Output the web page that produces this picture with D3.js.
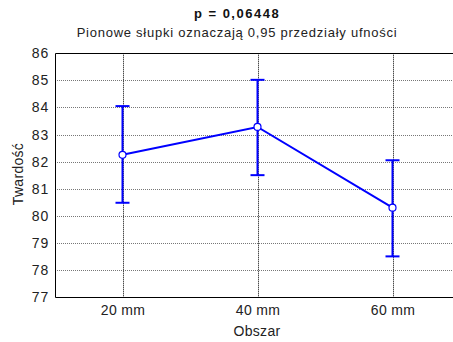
<!DOCTYPE html>
<html><head><meta charset="utf-8">
<script src="https://cdn.jsdelivr.net/npm/d3@7"></script>
<style>body{margin:0;background:#fff}svg{display:block}text{font-family:"Liberation Sans",Arial,sans-serif}</style>
</head><body><svg id="c" width="453" height="342"></svg>
<script>
const categories = ["20 mm","40 mm","60 mm"];
const means = [82.25, 83.28, 80.3];
const lower = [80.48, 81.5, 78.5];
const upper = [84.05, 85.02, 82.05];
const yTicks = [77,78,79,80,81,82,83,84,85,86];

const svg = d3.select("#c");
const L=55, R=460, T=53.3, B=297;
const x = d3.scalePoint().domain(categories).range([L,R]).padding(0.5);
const y = d3.scaleLinear().domain([77,86]).range([B,T]);

// horizontal grid
svg.append("g").selectAll("line").data(yTicks.slice(1,-1)).join("line")
  .attr("x1",L).attr("x2",R).attr("y1",d=>Math.round(y(d))+0.5).attr("y2",d=>Math.round(y(d))+0.5)
  .attr("stroke","#777").attr("stroke-dasharray","1,1");
// vertical grid
svg.append("g").selectAll("line").data(categories).join("line")
  .attr("x1",d=>Math.round(x(d))+0.5).attr("x2",d=>Math.round(x(d))+0.5).attr("y1",T).attr("y2",B)
  .attr("stroke","#000").attr("stroke-dasharray","1,1");

// frame
svg.append("path").attr("d",`M${R},${Math.round(T)+0.5}H${L+0.5}V${Math.round(B)+0.5}H${R}`)
  .attr("fill","none").attr("stroke","#000");

// y axis labels
const ya = svg.append("g").attr("transform",`translate(${L},0)`)
  .call(d3.axisLeft(y).tickValues(yTicks).tickSize(0).tickPadding(6).tickFormat(d3.format("d")));
ya.select(".domain").remove();
ya.selectAll("text").attr("font-size",14).attr("fill","#222").attr("letter-spacing",0.8).attr("font-family","Liberation Sans, Arial, sans-serif");

const xa = svg.append("g").attr("transform",`translate(0,${B})`)
  .call(d3.axisBottom(x).tickSize(0).tickPadding(8));
xa.select(".domain").remove();
xa.selectAll("text").attr("font-size",14).attr("fill","#222").attr("letter-spacing",0.3).attr("font-family","Liberation Sans, Arial, sans-serif");

// error bars
const g = svg.append("g");
const data = categories.map((c,i)=>({c,m:means[i],lo:lower[i],hi:upper[i]}));
g.selectAll("line.eb").data(data).join("line").attr("class","eb")
  .attr("x1",d=>x(d.c)).attr("x2",d=>x(d.c)).attr("y1",d=>y(d.lo)).attr("y2",d=>y(d.hi))
  .attr("stroke","#0000ff").attr("stroke-width",2);
["lo","hi"].forEach(k=>{
  g.selectAll("line.cap"+k).data(data).join("line").attr("class","cap"+k)
    .attr("x1",d=>x(d.c)-7).attr("x2",d=>x(d.c)+7).attr("y1",d=>y(d[k])).attr("y2",d=>y(d[k]))
    .attr("stroke","#0000ff").attr("stroke-width",2);
});
g.append("path").datum(data).attr("d",d3.line().x(d=>x(d.c)).y(d=>y(d.m)))
  .attr("fill","none").attr("stroke","#0000ff").attr("stroke-width",2);
g.selectAll("circle").data(data).join("circle")
  .attr("cx",d=>x(d.c)).attr("cy",d=>y(d.m)).attr("r",3.5)
  .attr("fill","#fff").attr("stroke","#0000ff").attr("stroke-width",1.2);

// titles
svg.append("text").attr("x",237).attr("y",18).attr("text-anchor","middle").attr("fill","#111")
  .attr("font-size",13).attr("font-weight","bold").attr("letter-spacing",1.5).text("p = 0,06448");
svg.append("text").attr("x",237).attr("y",37).attr("text-anchor","middle").attr("fill","#222")
  .attr("font-size",13).attr("letter-spacing",0.75).text("Pionowe słupki oznaczają 0,95 przedziały ufności");
svg.append("text").attr("transform","translate(23,174) rotate(-90)").attr("text-anchor","middle").attr("fill","#222")
  .attr("font-size",14).attr("letter-spacing",0.3).text("Twardość");
svg.append("text").attr("x",257).attr("y",336).attr("text-anchor","middle").attr("fill","#222")
  .attr("font-size",14).attr("letter-spacing",0.3).text("Obszar");
</script></body></html>
